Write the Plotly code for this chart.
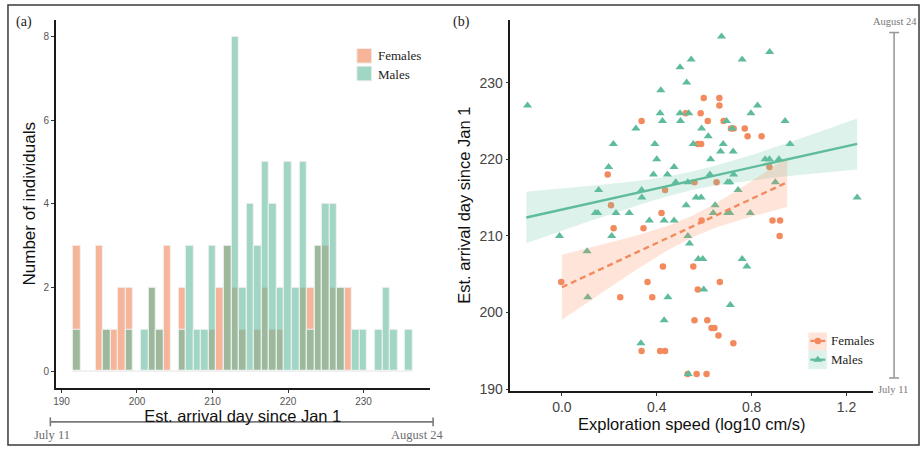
import plotly.graph_objects as go

# ---------------- Panel (a): histogram of arrival day ----------------
hist_days = [192, 195, 196, 197, 198, 199, 201, 202, 203, 204, 206, 207, 208, 209, 210,
             211, 212, 213, 214, 215, 216, 217, 218, 219, 220, 221, 222, 223, 224, 225,
             226, 227, 228, 229, 230, 232, 233, 234, 236]
female_counts = [3, 3, 1, 1, 2, 2, 0, 2, 1, 3, 2, 0, 0, 0, 1,
                 2, 3, 2, 1, 0, 1, 2, 1, 1, 0, 0, 2, 2, 3, 3,
                 2, 2, 2, 0, 0, 0, 0, 0, 0]
male_counts = [1, 0, 1, 0, 0, 1, 1, 2, 1, 0, 1, 3, 1, 1, 3,
               0, 3, 8, 2, 4, 3, 5, 4, 2, 5, 2, 5, 1, 3, 4,
               4, 2, 0, 1, 1, 1, 2, 1, 1]
hist_xticks = [190, 200, 210, 220, 230]
hist_yticks = [0, 2, 4, 6, 8]

# ---------------- Panel (b): exploration speed vs arrival day ----------------
female_speed = [-0.003, 0.193, 0.207, 0.218, 0.246, 0.336, 0.336, 0.344, 0.361, 0.381,
                0.414, 0.420, 0.435, 0.435, 0.426, 0.522, 0.530, 0.554, 0.559, 0.559,
                0.568, 0.573, 0.587, 0.573, 0.585, 0.589, 0.598, 0.610, 0.613, 0.615,
                0.631, 0.643, 0.652, 0.660, 0.664, 0.664, 0.666, 0.682, 0.713, 0.724,
                0.723, 0.771, 0.783, 0.842, 0.875, 0.888, 0.920, 0.918]
female_day = [204, 218, 214, 211, 202, 225, 195, 211, 204, 202,
              195, 213, 195, 216, 206, 226, 192, 206, 199, 217,
              192, 222, 222, 203, 226, 212, 228, 192, 199, 225,
              198, 198, 217, 197, 228, 227, 204, 225, 224, 224,
              196, 224, 223, 223, 219, 212, 212, 210]

male_speed = [-0.145, -0.010, 0.106, 0.109, 0.141, 0.151, 0.155, 0.197, 0.210, 0.217,
              0.228, 0.284, 0.312, 0.333, 0.336, 0.337, 0.369, 0.386, 0.392, 0.400,
              0.417, 0.414, 0.424, 0.431, 0.431, 0.445, 0.447, 0.473, 0.473, 0.480,
              0.498, 0.498, 0.500, 0.533, 0.526, 0.524, 0.531, 0.531, 0.535, 0.538,
              0.545, 0.554, 0.566, 0.575, 0.587, 0.589, 0.594, 0.598, 0.617, 0.627,
              0.624, 0.638, 0.646, 0.669, 0.673, 0.680, 0.694, 0.699, 0.708, 0.699,
              0.708, 0.710, 0.718, 0.722, 0.724, 0.743, 0.760, 0.760, 0.780, 0.794,
              0.797, 0.825, 0.857, 0.876, 0.875, 0.900, 0.915, 0.941, 0.962, 1.245]
male_day = [227, 210, 208, 202, 213, 213, 216, 219, 210, 222,
            213, 213, 224, 196, 216, 215, 212, 218, 222, 220,
            229, 226, 225, 212, 199, 218, 202, 219, 212, 217,
            232, 226, 225, 192, 230, 214, 217, 210, 226, 209,
            233, 222, 215, 207, 215, 224, 207, 203, 223, 220,
            218, 213, 214, 221, 236, 222, 225, 217, 217, 213,
            213, 201, 224, 221, 218, 216, 207, 233, 206, 213,
            226, 227, 220, 234, 220, 217, 220, 225, 222, 215]

# fitted lines and confidence ribbons
male_fit_x = [-0.15, 1.245]
male_fit_y = [212.4, 222.0]
male_band_x = [-0.15, 0.10, 0.20, 0.35, 0.45, 0.55, 0.65, 0.80, 0.90, 1.00, 1.12, 1.245]
male_band_hi = [215.75, 216.44, 216.77, 217.30, 217.78, 218.40, 219.18, 220.54, 221.57, 222.64, 223.95, 225.33]
male_band_lo = [209.05, 211.76, 212.83, 214.30, 215.22, 216.00, 216.62, 217.26, 217.63, 217.96, 218.33, 218.67]

female_fit_x = [0.0, 0.95]
female_fit_y = [203.3, 217.0]
female_band_x = [0.0, 0.15, 0.30, 0.45, 0.55, 0.65, 0.80, 0.95]
female_band_hi = [207.55, 208.70, 209.93, 211.37, 212.63, 214.25, 217.14, 220.24]
female_band_lo = [199.05, 202.22, 205.33, 208.21, 209.83, 211.09, 212.54, 213.76]

scat_xticks = [0.0, 0.4, 0.8, 1.2]
scat_yticks = [190, 200, 210, 220, 230]

# ---------------- styling ----------------
W, H = 922, 453
F_BAR = "rgba(240,130,85,0.6)"
M_BAR = "rgba(98,186,156,0.6)"
F_PT = "#F38A5E"
M_PT = "#5FBC9B"
F_BAND = "rgba(252,141,98,0.24)"
M_BAND = "rgba(102,194,165,0.22)"
SANS = "Liberation Sans, Arial, sans-serif"
SERIF = "Liberation Serif, DejaVu Serif, serif"
GREY = "#7a7a7a"


def px(x):
    return x / W


def py(y):
    return 1 - y / H


fig = go.Figure()

# histogram bars (females underneath, males on top)
fd = [d for d, c in zip(hist_days, female_counts) if c > 0]
fc = [c for c in female_counts if c > 0]
md = [d for d, c in zip(hist_days, male_counts) if c > 0]
mc = [c for c in male_counts if c > 0]
fig.add_trace(go.Bar(x=fd, y=fc, width=1, name="Females", marker=dict(color=F_BAR, line=dict(color="#f2f2f2", width=1)),
                     xaxis="x", yaxis="y", showlegend=False))
fig.add_trace(go.Bar(x=md, y=mc, width=1, name="Males", marker=dict(color=M_BAR, line=dict(color="#f2f2f2", width=1)),
                     xaxis="x", yaxis="y", showlegend=False))

# scatter points
fig.add_trace(go.Scatter(x=female_speed, y=female_day, mode="markers", name="Females",
                         marker=dict(symbol="circle", size=6.5, color=F_PT), xaxis="x2", yaxis="y2", showlegend=False))
fig.add_trace(go.Scatter(x=male_speed, y=male_day, mode="markers", name="Males",
                         marker=dict(symbol="triangle-up", size=8, color=M_PT), xaxis="x2", yaxis="y2", showlegend=False))

# ribbons
fig.add_trace(go.Scatter(x=male_band_x + male_band_x[::-1], y=male_band_hi + male_band_lo[::-1],
                         fill="toself", fillcolor=M_BAND, line=dict(width=0), mode="lines",
                         xaxis="x2", yaxis="y2", showlegend=False, hoverinfo="skip"))
fig.add_trace(go.Scatter(x=female_band_x + female_band_x[::-1], y=female_band_hi + female_band_lo[::-1],
                         fill="toself", fillcolor=F_BAND, line=dict(width=0), mode="lines",
                         xaxis="x2", yaxis="y2", showlegend=False, hoverinfo="skip"))
# fitted lines
fig.add_trace(go.Scatter(x=male_fit_x, y=male_fit_y, mode="lines", line=dict(color=M_PT, width=2.4),
                         xaxis="x2", yaxis="y2", showlegend=False))
fig.add_trace(go.Scatter(x=female_fit_x, y=female_fit_y, mode="lines",
                         line=dict(color=F_PT, width=2.4, dash="6px,4px"),
                         xaxis="x2", yaxis="y2", showlegend=False))

# legend glyphs for panel (b) on a pixel overlay axis
fig.add_trace(go.Scatter(x=[810, 825], y=[345.5, 345.5], mode="lines", line=dict(color=F_PT, width=2.2),
                         xaxis="x3", yaxis="y3", showlegend=False, hoverinfo="skip"))
fig.add_trace(go.Scatter(x=[817.5], y=[345.5], mode="markers", marker=dict(symbol="circle", size=6.5, color=F_PT),
                         xaxis="x3", yaxis="y3", showlegend=False, hoverinfo="skip"))
fig.add_trace(go.Scatter(x=[810, 825], y=[364.5, 364.5], mode="lines", line=dict(color=M_PT, width=2.2),
                         xaxis="x3", yaxis="y3", showlegend=False, hoverinfo="skip"))
fig.add_trace(go.Scatter(x=[817.5], y=[364.5], mode="markers", marker=dict(symbol="triangle-up", size=8, color=M_PT),
                         xaxis="x3", yaxis="y3", showlegend=False, hoverinfo="skip"))

shapes = []
# figure frame
shapes.append(dict(type="rect", xref="x3", yref="y3", x0=5, y0=5, x1=919, y1=451,
                   line=dict(color="#3a3a3a", width=1.5), layer="below"))
# zero baseline of histogram bins
shapes.append(dict(type="line", xref="x", yref="y", x0=min(hist_days) - 0.5, x1=max(hist_days) + 0.5, y0=0, y1=0,
                   line=dict(color="#e6e6e6", width=1), layer="below"))
# timeline under panel (a)
shapes.append(dict(type="line", xref="x3", yref="y3", x0=47.5, x1=431.5, y0=427.5, y1=427.5, line=dict(color=GREY, width=1.6)))
shapes.append(dict(type="line", xref="x3", yref="y3", x0=47.5, x1=47.5, y0=423, y1=432, line=dict(color=GREY, width=1.6)))
shapes.append(dict(type="line", xref="x3", yref="y3", x0=431.5, x1=431.5, y0=423, y1=432, line=dict(color=GREY, width=1.6)))
# vertical timeline at right of panel (b)
shapes.append(dict(type="line", xref="x3", yref="y3", x0=894, x1=894, y0=33, y1=383, line=dict(color="#9a9a9a", width=1.6)))
shapes.append(dict(type="line", xref="x3", yref="y3", x0=889, x1=899, y0=33, y1=33, line=dict(color="#9a9a9a", width=1.6)))
shapes.append(dict(type="line", xref="x3", yref="y3", x0=889, x1=899, y0=383, y1=383, line=dict(color="#9a9a9a", width=1.6)))
# legend (a) swatches
shapes.append(dict(type="rect", xref="x3", yref="y3", x0=355, x1=370, y0=49, y1=64,
                   fillcolor=F_BAR, line=dict(color="#f2f2f2", width=1)))
shapes.append(dict(type="rect", xref="x3", yref="y3", x0=355, x1=370, y0=67, y1=82,
                   fillcolor=M_BAR, line=dict(color="#f2f2f2", width=1)))
# legend (b) key backgrounds
shapes.append(dict(type="rect", xref="x3", yref="y3", x0=808, x1=826.5, y0=337, y1=355,
                   fillcolor=F_BAND, line=dict(width=0), layer="below"))
shapes.append(dict(type="rect", xref="x3", yref="y3", x0=808, x1=826.5, y0=355, y1=374,
                   fillcolor=M_BAND, line=dict(width=0), layer="below"))

ann = []


def label(text, x, y, size, color="#222", font=SERIF, xanchor="center"):
    ann.append(dict(text=text, x=px(x), y=py(y), xref="paper", yref="paper", showarrow=False,
                    xanchor=xanchor, yanchor="middle", font=dict(family=font, size=size, color=color)))


label("(a)", 21.5, 22, 14)
label("(b)", 460, 22, 14)
label("July 11", 49, 440.5, 12.5, color="#6e6e6e")
label("August 24", 415, 440.5, 12.5, color="#6e6e6e")
label("August 24", 895, 21.5, 10.5, color="#777")
label("July 11", 892.5, 394.5, 10.5, color="#777")
label("Females", 374, 56.5, 13, xanchor="left")
label("Males", 374, 75, 13, xanchor="left")
label("Females", 829, 345.5, 13, xanchor="left")
label("Males", 829, 364.5, 13, xanchor="left")

axis_common = dict(showline=True, linecolor="#1a1a1a", linewidth=1.5, ticks="outside", ticklen=3,
                   tickwidth=1, tickcolor="#333", showgrid=False, zeroline=False)

fig.update_layout(
    width=W, height=H, margin=dict(l=0, r=0, t=0, b=0),
    paper_bgcolor="white", plot_bgcolor="rgba(0,0,0,0)",
    barmode="overlay", bargap=0, showlegend=False,
    xaxis=dict(domain=[px(53), px(428)], range=[189.25, 238.75], tickvals=hist_xticks, anchor="y",
               tickfont=dict(family=SANS, size=10, color="#555"),
               title=dict(text="Est. arrival day since Jan 1", standoff=2,
                          font=dict(family=SANS, size=16.5, color="#111")), **axis_common),
    yaxis=dict(domain=[py(393), py(20)], range=[-0.4, 8.4], tickvals=hist_yticks, anchor="x",
               tickfont=dict(family=SANS, size=10, color="#555"),
               title=dict(text="Number of individuals", standoff=4,
                          font=dict(family=SANS, size=17, color="#111")), **axis_common),
    xaxis2=dict(domain=[px(509), px(873)], range=[-0.2175, 1.3125], tickvals=scat_xticks, tickformat=".1f",
                anchor="y2", tickfont=dict(family=SANS, size=14, color="#444"),
                title=dict(text="Exploration speed (log10 cm/s)", standoff=3,
                           font=dict(family=SANS, size=16.5, color="#111")), **axis_common),
    yaxis2=dict(domain=[py(396), py(20)], range=[189.8, 238.2], tickvals=scat_yticks, anchor="x2",
                tickfont=dict(family=SANS, size=14, color="#444"),
                title=dict(text="Est. arrival day since Jan 1", standoff=5,
                           font=dict(family=SANS, size=16.5, color="#111")), **axis_common),
    xaxis3=dict(domain=[0, 1], range=[0, W], visible=False, anchor="y3", fixedrange=True),
    yaxis3=dict(domain=[0, 1], range=[H, 0], visible=False, anchor="x3", fixedrange=True),
    shapes=shapes, annotations=ann,
)

fig.write_html("out.html")
